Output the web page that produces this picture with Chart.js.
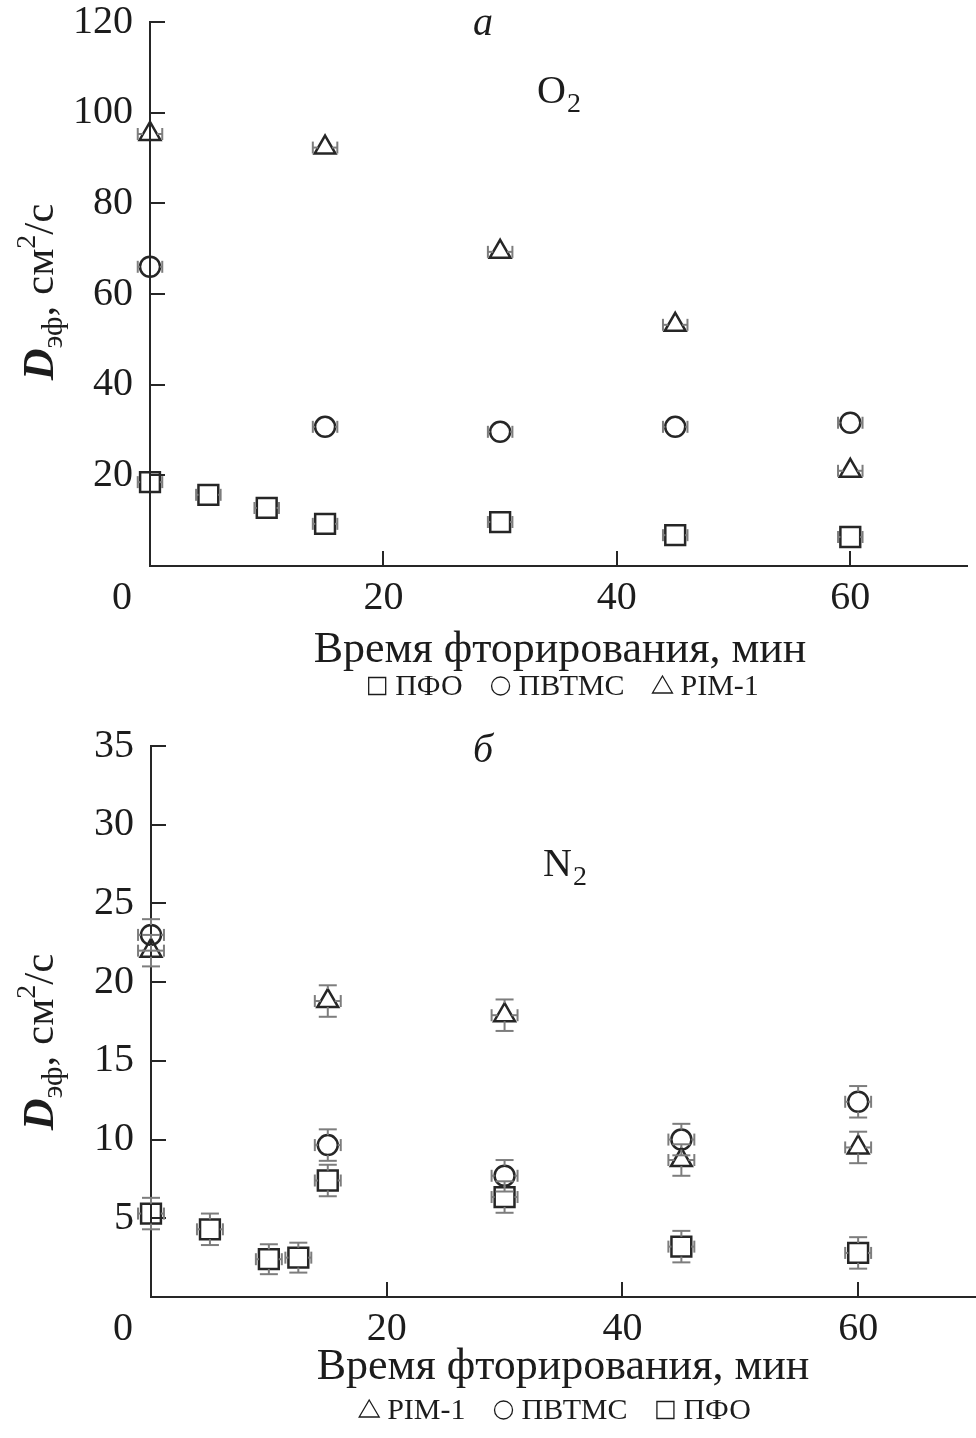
<!DOCTYPE html>
<html>
<head>
<meta charset="utf-8">
<script src="https://cdn.jsdelivr.net/npm/chart.js@4.4.1/dist/chart.umd.min.js"></script>
<style>
  body { margin: 0; background: #fff; }
  .panel { width: 976px; height: 719px; }
</style>
</head>
<body>
<div class="panel"><canvas id="o2" width="976" height="719"></canvas></div>
<div class="panel"><canvas id="n2" width="976" height="719"></canvas></div>
<script>
// панель а: O2
const timeO2Pfo = [0, 5, 10, 15, 30, 45, 60];
const timeO2 = [0, 15, 30, 45, 60];
const o2Pfo = [18.5, 15.7, 12.8, 9.3, 9.7, 6.8, 6.4];
const o2Pvtms = [66.0, 30.7, 29.6, 30.7, 31.6];
const o2Pim = [95.3, 92.3, 69.3, 53.2, 21.0];
const o2TimeErr = 1.05;

// панель б: N2
const timeN2Pfo = [0, 5, 10, 12.5, 15, 30, 45, 60];
const timeN2 = [0, 15, 30, 45, 60];
const n2Pfo = [5.3, 4.3, 2.4, 2.5, 7.4, 6.35, 3.2, 2.8];
const n2Pvtms = [23.0, 9.65, 7.7, 10.0, 12.4];
const n2Pim = [22.0, 18.8, 17.9, 8.7, 9.5];
const n2PfoErr = [1.0, 1.0, 0.95, 0.95, 1.0, 1.0, 1.0, 1.0];
const n2PvtmsErr = [1.0, 1.0, 1.0, 1.0, 1.0];
const n2PimErr = [1.0, 1.0, 1.0, 1.0, 1.0];
const n2TimeErr = 1.1;

const xTicks = [0, 20, 40, 60];
const yTicksO2 = [0, 20, 40, 60, 80, 100, 120];
const yTicksN2 = [0, 5, 10, 15, 20, 25, 30, 35];

const serif = '"Liberation Serif", "Times New Roman", serif';
const ink = '#262626';
const whisker = '#7d7d7d';
Chart.defaults.font.family = serif;
Chart.defaults.color = '#1c1c1c';

const pts = (xs, ys) => xs.map((x, i) => ({x: x, y: ys[i]}));
const errAt = (e, i) => Array.isArray(e) ? e[i] : (e || 0);

function series(label, xs, ys, style, radius, errX, errY) {
    return {
        label: label,
        data: pts(xs, ys),
        pointStyle: style,
        pointRadius: radius,
        pointHoverRadius: radius,
        pointBorderColor: ink,
        pointBackgroundColor: 'rgba(0,0,0,0)',
        pointBorderWidth: 2.5,
        showLine: false,
        clip: false,
        errX: errX,
        errY: errY
    };
}

function line(ctx, x1, y1, x2, y2) {
    ctx.beginPath();
    ctx.moveTo(x1, y1);
    ctx.lineTo(x2, y2);
    ctx.stroke();
}

// усы погрешностей
const errorBars = {
    id: 'errorBars',
    afterDatasetsDraw(chart) {
        const ctx = chart.ctx;
        const xs = chart.scales.x, ys = chart.scales.y;
        chart.data.datasets.forEach((ds, di) => {
            const meta = chart.getDatasetMeta(di);
            const r = ds.pointRadius;
            const st = ds.pointStyle;
            const up = st === 'rect' ? r * Math.SQRT1_2 : r;
            const down = st === 'rect' ? r * Math.SQRT1_2 : (st === 'triangle' ? r / 2 : r);
            const side = st === 'rect' ? r * Math.SQRT1_2 : (st === 'triangle' ? r * 0.58 : r);
            ctx.save();
            ctx.strokeStyle = whisker;
            ctx.lineWidth = 2;
            meta.data.forEach((pt, i) => {
                const d = ds.data[i];
                const ex = errAt(ds.errX, i), ey = errAt(ds.errY, i);
                if (ex) {
                    const x1 = xs.getPixelForValue(d.x - ex), x2 = xs.getPixelForValue(d.x + ex);
                    if (pt.x - x1 > side) line(ctx, x1, pt.y, pt.x - side, pt.y);
                    if (x2 - pt.x > side) line(ctx, pt.x + side, pt.y, x2, pt.y);
                    line(ctx, x1, pt.y - 6, x1, pt.y + 6);
                    line(ctx, x2, pt.y - 6, x2, pt.y + 6);
                }
                if (ey) {
                    const y1 = ys.getPixelForValue(d.y + ey), y2 = ys.getPixelForValue(d.y - ey);
                    if (pt.y - y1 > up) line(ctx, pt.x, y1, pt.x, pt.y - up);
                    if (y2 - pt.y > down) line(ctx, pt.x, pt.y + down, pt.x, y2);
                    line(ctx, pt.x - 9, y1, pt.x + 9, y1);
                    line(ctx, pt.x - 9, y2, pt.x + 9, y2);
                }
            });
            ctx.restore();
        });
    }
};

function richText(ctx, parts) {
    let w = 0;
    parts.forEach(p => { ctx.font = p.font; w += ctx.measureText(p.t).width; });
    let x = -w / 2;
    parts.forEach(p => {
        ctx.font = p.font;
        ctx.fillText(p.t, x, p.dy || 0);
        x += ctx.measureText(p.t).width;
    });
}

function drawMark(ctx, style, x, y) {
    ctx.beginPath();
    if (style === 'rect') ctx.rect(x - 8.5, y - 8.5, 17, 17);
    else if (style === 'circle') ctx.arc(x, y, 9, 0, Math.PI * 2);
    else { ctx.moveTo(x, y - 10); ctx.lineTo(x + 10, y + 7); ctx.lineTo(x - 10, y + 7); ctx.closePath(); }
    ctx.stroke();
}

// подписи: буква панели, газ, заголовки осей, легенда
const panelText = {
    id: 'panelText',
    afterDraw(chart, args, o) {
        const ctx = chart.ctx;
        const area = chart.chartArea;
        const xs = chart.scales.x;
        ctx.save();
        ctx.fillStyle = '#1c1c1c';
        ctx.textBaseline = 'alphabetic';

        ctx.textAlign = 'center';
        ctx.font = 'italic 40px ' + serif;
        ctx.fillText(o.letter, o.letterX, o.letterY);

        ctx.textAlign = 'left';
        ctx.font = '40px ' + serif;
        ctx.fillText(o.gas, o.gasX, o.gasY);
        const gw = ctx.measureText(o.gas).width;
        ctx.font = '28px ' + serif;
        ctx.fillText('2', o.gasX + gw + 1, o.gasY + 9);

        // общий ноль
        ctx.textAlign = 'center';
        ctx.textBaseline = 'middle';
        ctx.font = '40px ' + serif;
        ctx.fillText('0', xs.getPixelForValue(0) - 28, area.bottom + 32);

        ctx.textBaseline = 'alphabetic';
        ctx.font = '44px ' + serif;
        ctx.fillText('Время фторирования, мин', o.titleX, o.titleY);

        // ось Y
        ctx.save();
        ctx.translate(53, o.yTitleY);
        ctx.rotate(-Math.PI / 2);
        ctx.textAlign = 'left';
        richText(ctx, [
            {t: 'D', font: 'italic bold 44px ' + serif},
            {t: 'эф', font: '30px ' + serif, dy: 9},
            {t: ', см', font: '43px ' + serif},
            {t: '2', font: '28px ' + serif, dy: -18},
            {t: '/с', font: '43px ' + serif}
        ]);
        ctx.restore();

        // легенда
        ctx.font = '30px ' + serif;
        ctx.textAlign = 'left';
        ctx.textBaseline = 'middle';
        const items = chart.data.datasets.map(ds => ({label: ds.label, style: ds.pointStyle}));
        const markW = 20, gap = 8, sep = 28;
        let total = 0;
        items.forEach((it, i) => { total += markW + gap + ctx.measureText(it.label).width + (i ? sep : 0); });
        let x = o.legendX - total / 2;
        ctx.strokeStyle = '#1c1c1c';
        ctx.lineWidth = 1.3;
        items.forEach(it => {
            drawMark(ctx, it.style, x + markW / 2, o.legendY);
            x += markW + gap;
            ctx.fillText(it.label, x, o.legendY + 1);
            x += ctx.measureText(it.label).width + sep;
        });
        ctx.restore();
    }
};

function noPad(s) {
    s.paddingTop = 0;
    s.paddingBottom = 0;
    s.paddingLeft = 0;
    s.paddingRight = 0;
}

function makeChart(id, datasets, yTicks, yMax, axisLeft, padTop, padRight, xHeight, text) {
    return new Chart(document.getElementById(id), {
        type: 'scatter',
        data: {datasets: datasets},
        options: {
            responsive: false,
            animation: false,
            devicePixelRatio: 1,
            layout: {
                autoPadding: false,
                padding: {top: padTop, right: padRight, left: 0, bottom: 0}
            },
            plugins: {
                legend: {display: false},
                tooltip: {enabled: false},
                panelText: text
            },
            scales: {
                x: {
                    type: 'linear',
                    min: 0,
                    max: 70,
                    afterFit: s => { s.height = xHeight; noPad(s); },
                    afterBuildTicks: s => { s.ticks = xTicks.map(v => ({value: v})); },
                    border: {display: true, color: ink, width: 2},
                    grid: {drawOnChartArea: false, drawTicks: true, tickLength: -15, color: ink, lineWidth: 2},
                    ticks: {
                        padding: 27,
                        color: '#1c1c1c',
                        font: {size: 40, lineHeight: 1},
                        callback: v => v === 0 ? '' : v
                    }
                },
                y: {
                    min: 0,
                    max: yMax,
                    afterFit: s => { s.width = axisLeft; noPad(s); },
                    afterBuildTicks: s => { s.ticks = yTicks.map(v => ({value: v})); },
                    border: {display: true, color: ink, width: 2},
                    grid: {drawOnChartArea: false, drawTicks: true, tickLength: -15, color: ink, lineWidth: 2},
                    ticks: {
                        padding: 32,
                        color: '#1c1c1c',
                        font: {size: 40, lineHeight: 1},
                        callback: v => v === 0 ? '' : v
                    }
                }
            }
        },
        plugins: [errorBars, panelText]
    });
}

makeChart('o2', [
    series('ПФО', timeO2Pfo, o2Pfo, 'rect', 14, o2TimeErr),
    series('ПВТМС', timeO2, o2Pvtms, 'circle', 10, o2TimeErr),
    series('PIM-1', timeO2, o2Pim, 'triangle', 12, o2TimeErr)
], yTicksO2, 120, 150, 22, 9, 153, {
    letter: 'а', letterX: 483, letterY: 35,
    gas: 'O', gasX: 537, gasY: 103,
    titleX: 560, titleY: 662,
    yTitleY: 292,
    legendX: 563, legendY: 686
});

makeChart('n2', [
    series('PIM-1', timeN2, n2Pim, 'triangle', 12, n2TimeErr, n2PimErr),
    series('ПВТМС', timeN2, n2Pvtms, 'circle', 10, n2TimeErr, n2PvtmsErr),
    series('ПФО', timeN2Pfo, n2Pfo, 'rect', 14, n2TimeErr, n2PfoErr)
], yTicksN2, 35, 151, 27, 0, 141, {
    letter: 'б', letterX: 483, letterY: 43,
    gas: 'N', gasX: 543, gasY: 157,
    titleX: 563, titleY: 660,
    yTitleY: 323,
    legendX: 555, legendY: 691
});
</script>
</body>
</html>
